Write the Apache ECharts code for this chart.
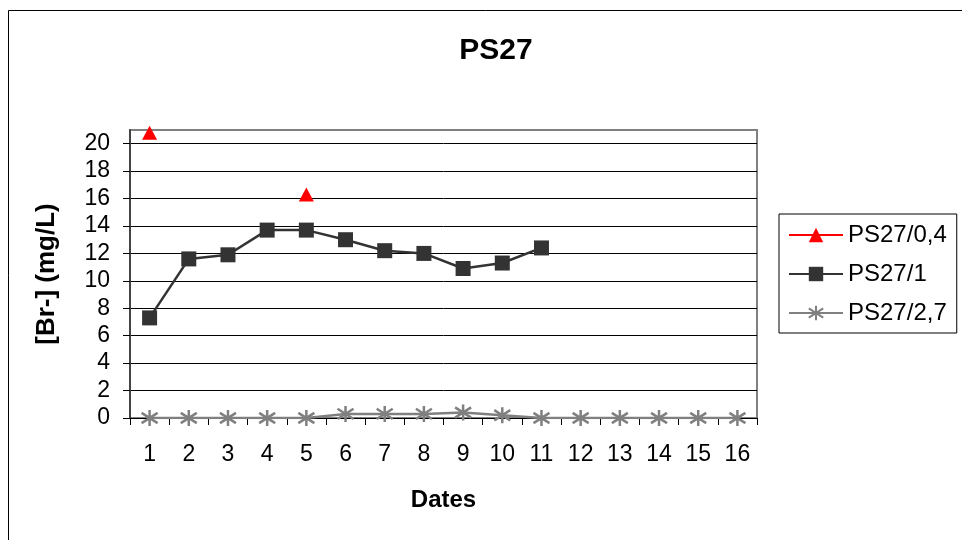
<!DOCTYPE html>
<html>
<head>
<meta charset="utf-8">
<script src="https://cdn.jsdelivr.net/npm/echarts@6/dist/echarts.min.js"></script>
<style>html,body{margin:0;padding:0;background:#fff;}#chart{width:962px;height:540px;}</style>
</head>
<body>
<div id="chart"></div>
<script>
var categories = ['1','2','3','4','5','6','7','8','9','10','11','12','13','14','15','16'];
var seriesNames = ['PS27/0,4', 'PS27/1', 'PS27/2,7'];
var ps27_04 = [20.8, null, null, null, 16.3, null, null, null, null, null, null, null, null, null, null, null];
var ps27_1 = [7.3, 11.6, 11.9, 13.7, 13.7, 13.0, 12.2, 12.0, 10.9, 11.3, 12.4, null, null, null, null, null];
var ps27_27 = [0, 0, 0, 0, 0, 0.3, 0.3, 0.3, 0.4, 0.2, 0, 0, 0, 0, 0, 0];
var yTicks = [0, 2, 4, 6, 8, 10, 12, 14, 16, 18, 20];

var FONT = 'Liberation Sans, Arial, sans-serif';
var asterisk = 'path://M5,0L5,10M0.8,1.8L9.2,8.2M9.2,1.8L0.8,8.2';

var chart = echarts.init(document.getElementById('chart'), null, {renderer: 'canvas'});
chart.setOption({
  backgroundColor: '#fff',
  animation: false,
  graphic: [{
    type: 'rect', z: -1,
    shape: {x: 8.5, y: 10.5, width: 1000, height: 600},
    style: {fill: '#fff', stroke: '#000', lineWidth: 1}
  }],
  title: {
    text: 'PS27', left: 491, top: 31, textAlign: 'center',
    textStyle: {fontFamily: FONT, fontWeight: 'bold', fontSize: 30, color: '#000'}
  },
  legend: {
    data: seriesNames,
    orient: 'vertical',
    left: 779, top: 214,
    padding: [8, 10, 7, 9],
    itemGap: 13,
    itemWidth: 54, itemHeight: 18,
    borderColor: '#000', borderWidth: 1,
    backgroundColor: '#fff',
    textStyle: {fontFamily: FONT, fontSize: 24, color: '#000', lineHeight: 26}
  },
  grid: {
    left: 130, top: 130, right: 205, bottom: 122,
    show: true, borderColor: '#808080', borderWidth: 2, backgroundColor: '#fff'
  },
  xAxis: {
    type: 'category', data: categories, boundaryGap: true,
    name: 'Dates', nameLocation: 'middle', nameGap: 70,
    nameTextStyle: {fontFamily: FONT, fontWeight: 'bold', fontSize: 24, color: '#000'},
    axisLine: {lineStyle: {color: '#000', width: 1}},
    axisTick: {show: true, interval: 0, length: 7, lineStyle: {color: '#000'}},
    axisLabel: {interval: 0, margin: 25, fontFamily: FONT, fontSize: 23, color: '#000'},
    splitLine: {show: false}
  },
  yAxis: {
    type: 'value', min: 0, max: 21, interval: 2,
    name: '[Br-] (mg/L)', nameLocation: 'middle', nameGap: 70, nameRotate: 90,
    nameTextStyle: {fontFamily: FONT, fontWeight: 'bold', fontSize: 26, color: '#000'},
    axisLine: {show: true, lineStyle: {color: '#444', width: 2}},
    axisTick: {show: true, length: 7, lineStyle: {color: '#000'}, customValues: yTicks},
    axisLabel: {margin: 20, fontFamily: FONT, fontSize: 23, color: '#000', customValues: yTicks},
    splitLine: {show: true, lineStyle: {color: '#000', width: 1}}
  },
  series: [
    {
      name: seriesNames[0], type: 'line', data: ps27_04,
      symbol: 'triangle', symbolSize: [15, 14], showAllSymbol: true,
      connectNulls: false,
      itemStyle: {color: '#ff0000'},
      lineStyle: {color: '#ff0000', width: 2},
      z: 5
    },
    {
      name: seriesNames[1], type: 'line', data: ps27_1,
      symbol: 'rect', symbolSize: 15, showAllSymbol: true,
      itemStyle: {color: '#333333'},
      lineStyle: {color: '#333333', width: 2.5},
      z: 4
    },
    {
      name: seriesNames[2], type: 'line', data: ps27_27,
      symbol: asterisk, symbolSize: 16, showAllSymbol: true,
      itemStyle: {color: '#808080', borderColor: '#808080', borderWidth: 2.5},
      lineStyle: {color: '#808080', width: 2.5},
      z: 3
    }
  ]
});
</script>
</body>
</html>
